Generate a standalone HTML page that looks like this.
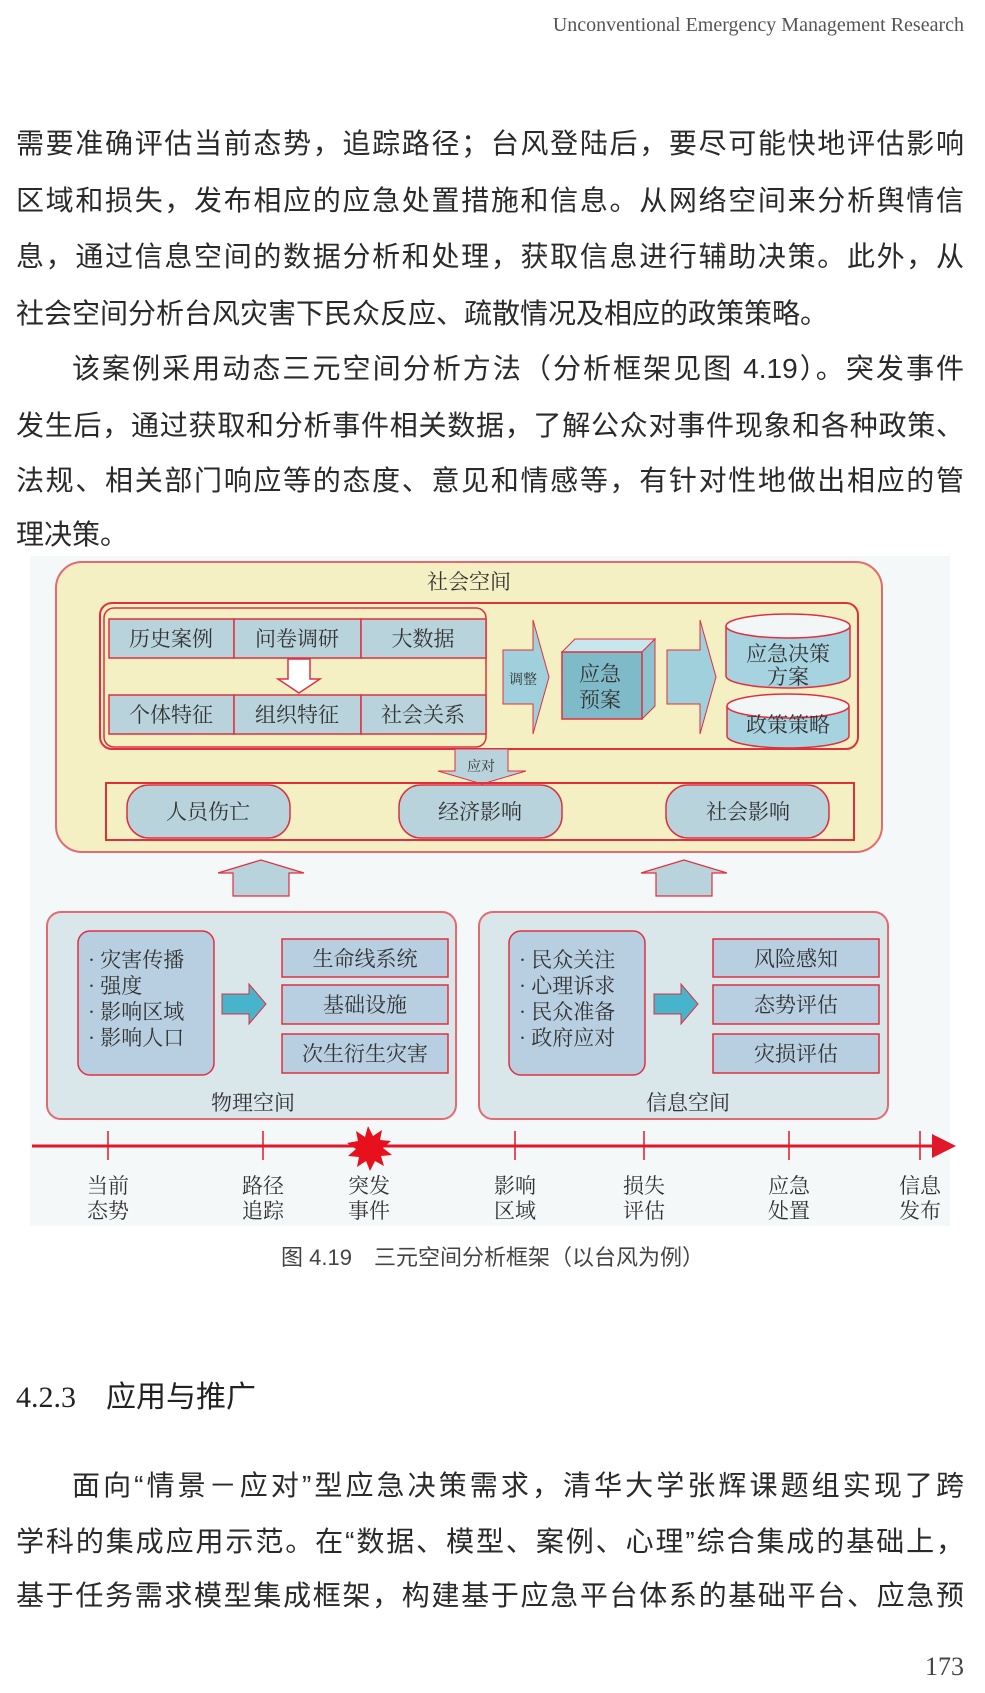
<!DOCTYPE html>
<html><head><meta charset="utf-8"><style>
body{margin:0;background:#fff;}
#p{position:relative;width:985px;height:1693px;overflow:hidden;background:#fff;font-family:"Liberation Sans","Noto Sans CJK SC",sans-serif;color:#2a2a2a;}
.l{position:absolute;left:16px;width:948px;font-size:28px;line-height:40px;height:40px;text-align:justify;text-align-last:justify;white-space:nowrap;}
.s{text-align-last:left;}
svg{position:absolute;left:0;top:0;}
</style></head><body><div id="p">
<div style="position:absolute;right:21px;top:14px;font-family:'Liberation Serif',serif;font-size:20px;color:#555;">Unconventional Emergency Management Research</div>
<div class="l" style="top:124px">需要准确评估当前态势，追踪路径；台风登陆后，要尽可能快地评估影响</div>
<div class="l" style="top:181px">区域和损失，发布相应的应急处置措施和信息。从网络空间来分析舆情信</div>
<div class="l" style="top:237px">息，通过信息空间的数据分析和处理，获取信息进行辅助决策。此外，从</div>
<div class="l s" style="top:294px">社会空间分析台风灾害下民众反应、疏散情况及相应的政策策略。</div>
<div class="l" style="top:349px;left:72px;width:892px">该案例采用动态三元空间分析方法（分析框架见图 4.19）。突发事件</div>
<div class="l" style="top:406px">发生后，通过获取和分析事件相关数据，了解公众对事件现象和各种政策、</div>
<div class="l" style="top:461px">法规、相关部门响应等的态度、意见和情感等，有针对性地做出相应的管</div>
<div class="l s" style="top:515px">理决策。</div>
<svg width="985" height="1693" viewBox="0 0 985 1693" font-family="Liberation Serif, Noto Serif CJK SC, serif">
<defs><marker id="m" markerWidth="8" markerHeight="8" refX="6" refY="4" orient="auto"><path d="M0,0L8,4L0,8z" fill="#e0182a"/></marker></defs>
<rect x="30" y="556" width="920" height="670" fill="#f4f8f8"/>
<!-- social -->
<rect x="56" y="562" width="826" height="290" rx="26" fill="#f4f0c4" stroke="#e46a72" stroke-width="2"/>
<text x="469" y="589" font-size="21" text-anchor="middle" fill="#333">社会空间</text>
<rect x="100" y="603" width="758" height="146" rx="12" fill="none" stroke="#e03040" stroke-width="2"/>
<rect x="104" y="608" width="382" height="139" rx="10" fill="none" stroke="#e03040" stroke-width="1.5"/>
<g fill="#b9d3dc" stroke="#e03040" stroke-width="1.5">
<rect x="109" y="619" width="125" height="39"/><rect x="234" y="619" width="127" height="39"/><rect x="361" y="619" width="125" height="39"/>
<rect x="109" y="695" width="125" height="39"/><rect x="234" y="695" width="127" height="39"/><rect x="361" y="695" width="125" height="39"/>
</g>
<g font-size="21" text-anchor="middle" fill="#333">
<text x="171" y="646">历史案例</text><text x="297" y="646">问卷调研</text><text x="423" y="646">大数据</text>
<text x="171" y="722">个体特征</text><text x="297" y="722">组织特征</text><text x="423" y="722">社会关系</text>
</g>
<path d="M288,659h22v20h10l-21,14l-21,-14h10z" fill="#fff" stroke="#e03040" stroke-width="1.5"/>
<path d="M503,650h30v-30l16,57l-16,57v-30h-30z" fill="#9fd0dc" stroke="#e03040" stroke-width="1"/>
<text x="523" y="684" font-size="14" text-anchor="middle" fill="#333">调整</text>
<path d="M562,652l13,-13h80l-13,13z" fill="#c8e6ee" stroke="#e03040" stroke-width="1"/>
<path d="M642,652l13,-13v67l-13,13z" fill="#8cc3d0" stroke="#e03040" stroke-width="1"/>
<rect x="562" y="652" width="80" height="67" fill="#7fbac8" stroke="#e03040" stroke-width="1.5"/>
<text x="600" y="681" font-size="21" text-anchor="middle" fill="#333">应急</text>
<text x="600" y="707" font-size="21" text-anchor="middle" fill="#333">预案</text>
<path d="M667,650h33v-30l16,57l-16,57v-30h-33z" fill="#9fd0dc" stroke="#e03040" stroke-width="1"/>
<g fill="#a6d3df" stroke="#e03040" stroke-width="1.5">
<path d="M726,626v50a62,12 0 0 0 124,0v-50"/><ellipse cx="788" cy="626" rx="62" ry="12" fill="#f2f6f6"/>
<path d="M727,706v30a61,12 0 0 0 122,0v-30"/><ellipse cx="788" cy="706" rx="61" ry="12" fill="#f2f6f6"/>
</g>
<text x="788" y="661" font-size="21" text-anchor="middle" fill="#333">应急决策</text>
<text x="788" y="684" font-size="21" text-anchor="middle" fill="#333">方案</text>
<text x="788" y="732" font-size="21" text-anchor="middle" fill="#333">政策策略</text>
<path d="M455,749h53v22h18l-44,13l-44,-13h17z" fill="#b9d3dc" stroke="#e03040" stroke-width="1"/>
<text x="481" y="771" font-size="14" text-anchor="middle" fill="#333">应对</text>
<rect x="106" y="783" width="748" height="57" fill="none" stroke="#e03040" stroke-width="2"/>
<g fill="#b9d3dc" stroke="#e03040" stroke-width="1.5">
<rect x="127" y="785" width="163" height="53" rx="22"/><rect x="399" y="785" width="163" height="53" rx="22"/><rect x="666" y="785" width="163" height="53" rx="22"/>
</g>
<g font-size="21" text-anchor="middle" fill="#333">
<text x="208" y="819">人员伤亡</text><text x="480" y="819">经济影响</text><text x="748" y="819">社会影响</text>
</g>
<g fill="#b9d3dc" stroke="#e03040" stroke-width="1.2">
<path d="M233,896v-23h-15l43,-13l43,13h-15v23z"/><path d="M656,896v-23h-15l43,-13l43,13h-15v23z"/>
</g>
<!-- physical -->
<rect x="47" y="912" width="409" height="207" rx="14" fill="#d9e6ea" stroke="#e46a72" stroke-width="2"/>
<rect x="78" y="931" width="136" height="144" rx="12" fill="#b8cfe2" stroke="#e03040" stroke-width="1.5"/>
<g font-size="21" fill="#333"><text x="88" y="967">· 灾害传播</text><text x="88" y="993">· 强度</text><text x="88" y="1019">· 影响区域</text><text x="88" y="1045">· 影响人口</text></g>
<path d="M222,994h27v-10l17,20l-17,20v-10h-27z" fill="#48b4cc" stroke="#e03040" stroke-width="1"/>
<g fill="#b8cfe2" stroke="#e03040" stroke-width="1.5"><rect x="282" y="939" width="166" height="38"/><rect x="282" y="985" width="166" height="39"/><rect x="282" y="1034" width="166" height="39"/></g>
<g font-size="21" text-anchor="middle" fill="#333"><text x="365" y="966">生命线系统</text><text x="365" y="1012">基础设施</text><text x="365" y="1061">次生衍生灾害</text><text x="253" y="1110">物理空间</text></g>
<!-- info -->
<rect x="479" y="912" width="409" height="207" rx="14" fill="#d9e6ea" stroke="#e46a72" stroke-width="2"/>
<rect x="509" y="931" width="136" height="144" rx="12" fill="#b8cfe2" stroke="#e03040" stroke-width="1.5"/>
<g font-size="21" fill="#333"><text x="519" y="967">· 民众关注</text><text x="519" y="993">· 心理诉求</text><text x="519" y="1019">· 民众准备</text><text x="519" y="1045">· 政府应对</text></g>
<path d="M654,994h27v-10l17,20l-17,20v-10h-27z" fill="#48b4cc" stroke="#e03040" stroke-width="1"/>
<g fill="#b8cfe2" stroke="#e03040" stroke-width="1.5"><rect x="713" y="939" width="166" height="38"/><rect x="713" y="985" width="166" height="39"/><rect x="713" y="1034" width="166" height="39"/></g>
<g font-size="21" text-anchor="middle" fill="#333"><text x="796" y="966">风险感知</text><text x="796" y="1012">态势评估</text><text x="796" y="1061">灾损评估</text><text x="688" y="1110">信息空间</text></g>
<!-- timeline -->
<line x1="32" y1="1146" x2="950" y2="1146" stroke="#e0182a" stroke-width="3" marker-end="url(#m)"/>
<g stroke="#e0182a" stroke-width="1.5"><line x1="108" y1="1131" x2="108" y2="1160"/><line x1="263" y1="1131" x2="263" y2="1160"/><line x1="515" y1="1131" x2="515" y2="1160"/><line x1="644" y1="1131" x2="644" y2="1160"/><line x1="789" y1="1131" x2="789" y2="1160"/><line x1="920" y1="1131" x2="920" y2="1160"/></g>
<path d="M368,1126l5,10l9,-6l-2,10l11,1l-8,7l9,7l-11,1l3,10l-9,-5l-5,10l-4,-10l-9,6l2,-10l-11,-1l8,-7l-9,-6l11,-2l-2,-10l9,6z" fill="#e8101c"/>
<g font-size="21" text-anchor="middle" fill="#333">
<text x="108" y="1193">当前</text><text x="108" y="1218">态势</text>
<text x="263" y="1193">路径</text><text x="263" y="1218">追踪</text>
<text x="369" y="1193">突发</text><text x="369" y="1218">事件</text>
<text x="515" y="1193">影响</text><text x="515" y="1218">区域</text>
<text x="644" y="1193">损失</text><text x="644" y="1218">评估</text>
<text x="789" y="1193">应急</text><text x="789" y="1218">处置</text>
<text x="920" y="1193">信息</text><text x="920" y="1218">发布</text>
</g>
</svg>
<div style="position:absolute;left:0;width:985px;top:1240px;text-align:center;font-size:22px;color:#444;">图 4.19　三元空间分析框架（以台风为例）</div>
<div style="position:absolute;left:16px;top:1372px;font-size:30px;color:#222;"><span style="font-family:'Liberation Serif',serif">4.2.3</span>　应用与推广</div>
<div class="l" style="top:1466px;left:72px;width:892px">面向“情景－应对”型应急决策需求，清华大学张辉课题组实现了跨</div>
<div class="l" style="top:1522px">学科的集成应用示范。在“数据、模型、案例、心理”综合集成的基础上，</div>
<div class="l" style="top:1576px">基于任务需求模型集成框架，构建基于应急平台体系的基础平台、应急预</div>
<div style="position:absolute;right:21px;top:1652px;font-family:'Liberation Serif',serif;font-size:26px;color:#444;">173</div>
</div></body></html>
